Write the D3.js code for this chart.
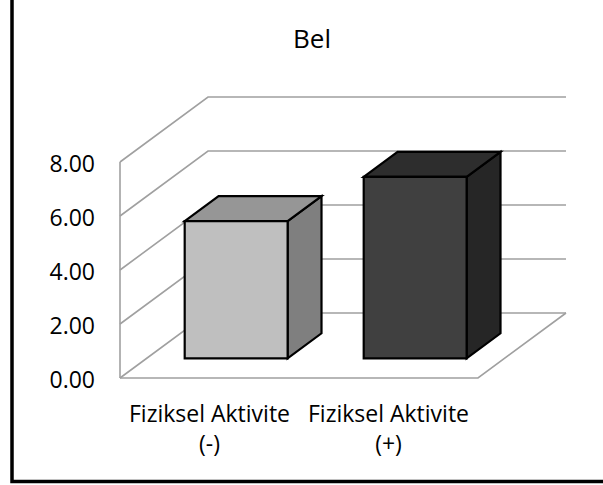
<!DOCTYPE html>
<html>
<head>
<meta charset="utf-8">
<script src="https://cdn.jsdelivr.net/npm/d3@7"></script>
<style>
  html, body { margin: 0; padding: 0; background: #fff; }
  svg { display: block; }
  text { font-family: "Open Sans", sans-serif; fill: #000; }
</style>
</head>
<body>
<svg id="chart" width="603" height="485"></svg>
<script>
// Chart data
const title = "Bel";
const categories = ["Fiziksel Aktivite (-)", "Fiziksel Aktivite (+)"];
const categoryLines = [["Fiziksel Aktivite", "(-)"], ["Fiziksel Aktivite", "(+)"]];
const values = [5.08, 6.72];
const tickValues = [0, 2, 4, 6, 8];
const frontColors = ["#bfbfbf", "#404040"];
const topColors = ["#969696", "#2d2d2d"];
const sideColors = ["#7f7f7f", "#262626"];

const svg = d3.select("#chart");

// Front plane of the 3D box
const x0 = 120, x1 = 478;
const y = d3.scaleLinear().domain([0, 8]).range([378, 162]);
const x = d3.scaleBand().domain(categories).range([x0, x1])
  .paddingInner(0.425).paddingOuter(0.2125);

// Oblique depth offset (full depth of the plot box)
const DX = 88, DY = 65;
const P = (px, v, d) => [px + DX * d, y(v) - DY * d];
const dFront = 0.303, dBack = 0.688;

const line = d3.line();
const grid = "#a0a0a0";

// Frame
svg.append("rect")
  .attr("x", 12).attr("y", -10)
  .attr("width", 620).attr("height", 491.5)
  .attr("fill", "none").attr("stroke", "#000").attr("stroke-width", 3.5);

// Title
svg.append("text")
  .attr("x", 312).attr("y", 48)
  .attr("text-anchor", "middle")
  .style("font-size", "26px")
  .text(title);

// Gridlines on side wall and back wall
const g = svg.append("g");
tickValues.forEach(t => {
  g.append("path")
    .attr("d", line([P(x0, t, 0), P(x0, t, 1), P(x1, t, 1)]))
    .attr("fill", "none").attr("stroke", grid).attr("stroke-width", 1.6);
});
// Side wall front edge
g.append("path")
  .attr("d", line([P(x0, 0, 0), P(x0, 8, 0)]))
  .attr("fill", "none").attr("stroke", grid).attr("stroke-width", 1.6);
// Floor front and right edges
g.append("path")
  .attr("d", line([P(x0, 0, 0), P(x1, 0, 0), P(x1, 0, 1)]))
  .attr("fill", "none").attr("stroke", grid).attr("stroke-width", 1.6);

// Y tick labels
svg.append("g").selectAll("text")
  .data(tickValues)
  .join("text")
  .attr("x", 95)
  .attr("y", d => y(d) + 10)
  .attr("text-anchor", "end")
  .style("font-size", "23px")
  .text(d => d3.format(".2f")(d));

// 3D bars
const bars = svg.append("g");
categories.forEach((c, i) => {
  const bx = x(c), bw = x.bandwidth(), v = values[i];
  const outline = { stroke: "#000", "stroke-width": 2.2, "stroke-linejoin": "miter" };
  const poly = pts => line(pts) + "Z";

  const side = bars.append("path")
    .attr("d", poly([P(bx + bw, 0, dFront), P(bx + bw, v, dFront), P(bx + bw, v, dBack), P(bx + bw, 0, dBack)]))
    .attr("fill", sideColors[i]);
  const top = bars.append("path")
    .attr("d", poly([P(bx, v, dFront), P(bx + bw, v, dFront), P(bx + bw, v, dBack), P(bx, v, dBack)]))
    .attr("fill", topColors[i]);
  const front = bars.append("path")
    .attr("d", poly([P(bx, 0, dFront), P(bx, v, dFront), P(bx + bw, v, dFront), P(bx + bw, 0, dFront)]))
    .attr("fill", frontColors[i]);
  [side, top, front].forEach(s => Object.entries(outline).forEach(([k, val]) => s.attr(k, val)));
});

// Category labels
const labels = svg.append("g");
categories.forEach((c, i) => {
  const cx = x(c) + x.bandwidth() / 2;
  const t = labels.append("text")
    .attr("x", cx).attr("y", 422)
    .attr("text-anchor", "middle")
    .style("font-size", "23px");
  categoryLines[i].forEach((ln, j) => {
    t.append("tspan").attr("x", cx).attr("dy", j === 0 ? 0 : 30).text(ln);
  });
});
</script>
</body>
</html>
